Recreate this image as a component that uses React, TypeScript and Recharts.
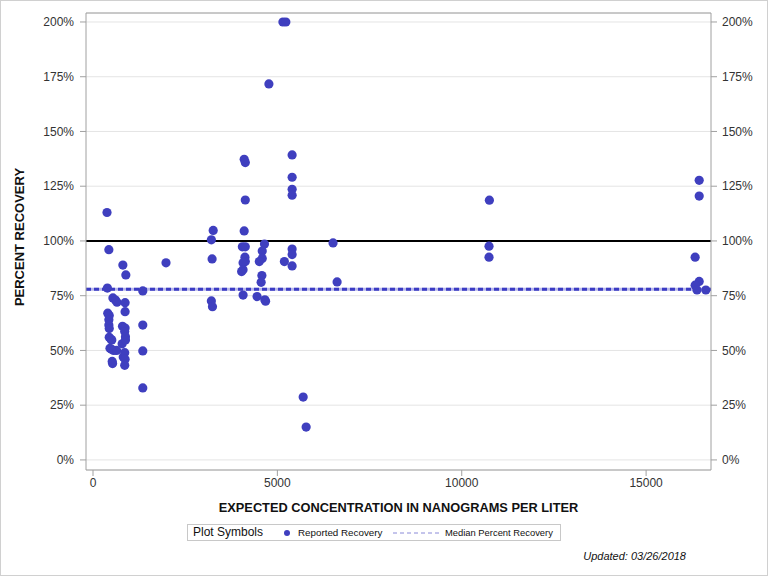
import {
  ScatterChart,
  Scatter,
  XAxis,
  YAxis,
  CartesianGrid,
  ReferenceLine,
} from "recharts";

// expected concentration (ng/L) and reported percent recovery
const concentration = [
  380, 430, 390, 400, 440, 430, 430, 440, 440, 490, 460, 500,
  540, 510, 560, 520, 530,
  610, 650, 640,
  810, 800, 790, 820,
  890, 870, 870, 870, 860, 880, 880, 860, 870, 860,
  1350, 1350, 1350, 1350,
  1980,
  3260, 3210, 3230, 3210, 3240,
  4100, 4130, 4130, 4100, 4050, 4130, 4120, 4130, 4070, 4070, 4030, 4070,
  4650, 4590, 4590, 4510, 4580, 4560, 4450, 4660, 4680,
  5150, 5230, 4770,
  5400, 5400, 5400, 5400, 5400, 5400, 5400, 5190,
  5700, 5780,
  6510, 6620,
  10750, 10740, 10740,
  16440, 16440, 16330, 16440, 16330, 16380, 16620,
];

const recovery = [
  113, 96, 78.5, 67, 66, 64, 61.6, 60, 56, 55, 51, 50.5,
  74, 54.8, 50, 45, 44,
  73, 72, 50,
  89, 61, 53, 47,
  84.5, 71.8, 67.7, 60.2, 58.6, 56.3, 54.8, 49, 46, 43.2,
  77.2, 61.6, 49.8, 32.9,
  90,
  104.8, 100.5, 91.8, 72.6, 70,
  137.3, 135.8, 118.7, 104.6, 97.3, 97.3, 92.6, 90.6, 90, 86.8, 86, 75.3,
  98.6, 95.4, 92, 90.6, 84.2, 81.1, 74.6, 73.1, 72.5,
  200, 200, 171.7,
  139.3, 129.1, 123.6, 120.9, 96.3, 93.8, 88.6, 90.6,
  28.7, 15,
  99.1, 81.3,
  118.6, 97.6, 92.6,
  127.7, 120.5, 92.6, 81.5, 79.8, 77.6, 77.6,
];

const xTicks = [0, 5000, 10000, 15000];
const yTicks = [0, 25, 50, 75, 100, 125, 150, 175, 200];
const medianRecovery = 78;
const targetRecovery = 100;

const data = concentration.map((x, i) => ({ x, y: recovery[i] }));

const FONT = '"Liberation Sans", Arial, sans-serif';
const DOT = "#3f3fbf";
const FRAME = "#a0a0a0";
const tickStyle = { fontSize: 12, fill: "#333", fontFamily: FONT };

export default function App() {
  return (
    <div style={{ position: "absolute", left: 0, top: 0, width: 768, height: 576, background: "#fff", fontFamily: FONT }}>
      <ScatterChart width={768} height={576} margin={{ top: 13, right: 0, left: 0, bottom: 76 }}>
        <CartesianGrid yAxisId="left" vertical={false} stroke="#e4e4e4" />
        <XAxis
          type="number"
          dataKey="x"
          domain={[-190, 16760]}
          ticks={xTicks}
          allowDataOverflow
          height={30}
          tick={tickStyle}
          stroke={FRAME}
          tickSize={6}
        />
        <YAxis
          yAxisId="left"
          type="number"
          dataKey="y"
          domain={[-4.6, 204.1]}
          ticks={yTicks}
          allowDataOverflow
          width={86}
          tick={tickStyle}
          tickFormatter={(v) => `${v}%`}
          stroke={FRAME}
          tickSize={6}
          tickMargin={6}
        />
        <YAxis
          yAxisId="right"
          orientation="right"
          type="number"
          domain={[-4.6, 204.1]}
          ticks={yTicks}
          allowDataOverflow
          width={57}
          tick={tickStyle}
          tickFormatter={(v) => `${v}%`}
          stroke={FRAME}
          tickSize={6}
          tickMargin={5}
        />
        <ReferenceLine yAxisId="left" y={204.1} stroke={FRAME} />
        <ReferenceLine yAxisId="left" y={targetRecovery} stroke="#000" strokeWidth={2} />
        <ReferenceLine yAxisId="left" y={medianRecovery} stroke="#b8b8ea" strokeWidth={3} />
        <ReferenceLine yAxisId="left" y={medianRecovery} stroke="#3b3bc4" strokeWidth={3} strokeDasharray="5 3" />
        <Scatter
          yAxisId="left"
          data={data}
          isAnimationActive={false}
          shape={(p: any) => <circle cx={p.cx} cy={p.cy} r={4.6} fill={DOT} />}
        />
      </ScatterChart>

      <div
        style={{
          position: "absolute", left: 86, top: 500, width: 625, textAlign: "center",
          fontSize: 12.8, fontWeight: "bold", lineHeight: "16px", color: "#111",
        }}
      >
        EXPECTED CONCENTRATION IN NANOGRAMS PER LITER
      </div>
      <div
        style={{
          position: "absolute", left: 20, top: 237, transform: "translate(-50%, -50%) rotate(-90deg)",
          whiteSpace: "nowrap", fontSize: 13, fontWeight: "bold", lineHeight: "16px", color: "#111",
        }}
      >
        PERCENT RECOVERY
      </div>

      <div
        style={{
          position: "absolute", left: 187, top: 524, width: 374, height: 17,
          border: "1px solid #c8c8c8", boxSizing: "border-box", color: "#111", whiteSpace: "nowrap",
        }}
      >
        <span style={{ position: "absolute", left: 5, top: 0, fontSize: 12, lineHeight: "15px" }}>Plot Symbols</span>
        <svg style={{ position: "absolute", left: 94, top: 3 }} width={10} height={10}>
          <circle cx={5} cy={5} r={3} fill={DOT} />
        </svg>
        <span style={{ position: "absolute", left: 110, top: 1, fontSize: 9.8, lineHeight: "13px" }}>Reported Recovery</span>
        <svg style={{ position: "absolute", left: 205, top: 3 }} width={46} height={10}>
          <line x1={0} y1={5} x2={46} y2={5} stroke="#8a8ad8" strokeWidth={1} strokeDasharray="4 3" />
        </svg>
        <span style={{ position: "absolute", left: 257, top: 1, fontSize: 9.4, lineHeight: "13px" }}>Median Percent Recovery</span>
      </div>

      <div
        style={{
          position: "absolute", left: 560, top: 549, width: 126, textAlign: "right",
          fontSize: 11, fontStyle: "italic", lineHeight: "14px", color: "#111",
        }}
      >
        Updated: 03/26/2018
      </div>

      <div style={{ position: "absolute", left: 0, top: 0, width: 768, height: 576, border: "1px solid #d0d0d0", boxSizing: "border-box", pointerEvents: "none" }} />
    </div>
  );
}
